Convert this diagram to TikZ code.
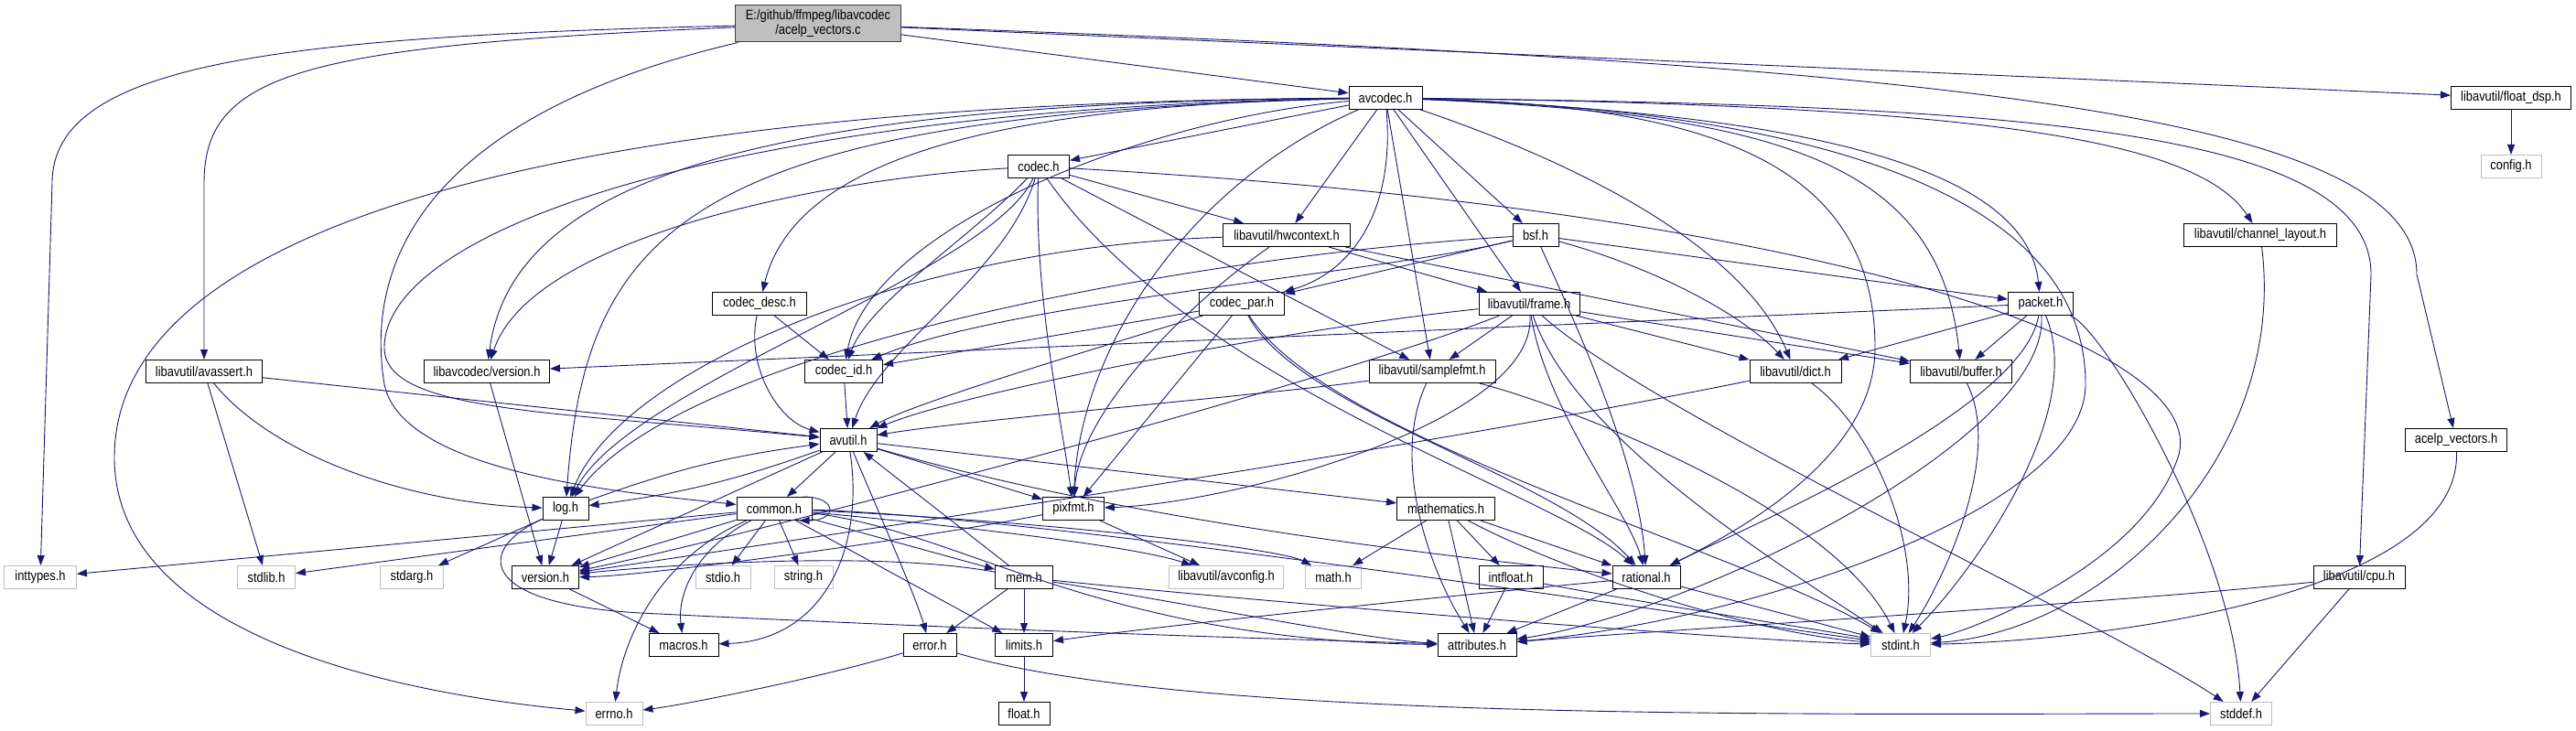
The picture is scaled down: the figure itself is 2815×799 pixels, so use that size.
\documentclass[tikz,border=0pt]{standalone}
\usepackage{fontspec}
\setmainfont{Liberation Sans}
\newfontfamily\dotfont[FakeStretch=0.86]{Liberation Sans}
\usetikzlibrary{arrows.meta}
\definecolor{edgeblue}{HTML}{191970}
\definecolor{sysgray}{HTML}{BFBFBF}
\definecolor{rootgray}{HTML}{BFBFBF}
\definecolor{rootline}{HTML}{404040}

\begin{document}
\begin{tikzpicture}[x=1pt, y=-1pt,
        hdr/.style={draw=black, fill=white, line width=1pt, rectangle, minimum height=25pt, inner sep=0pt, font=\dotfont\fontsize{15pt}{16pt}\selectfont},
        syshdr/.style={hdr, draw=sysgray},
        srcfile/.style={hdr, fill=rootgray, draw=rootline, align=center, minimum height=40pt},
        inc/.style={-{Triangle[length=11pt, width=8pt]}, draw=edgeblue, line width=0.9pt}
    ]
        \useasboundingbox (0,0) rectangle (2815,799);

        % Source file and first level
        \node[srcfile, minimum width=181pt] (root) at (894,26) {E:/github/ffmpeg/libavcodec\\/acelp\_vectors.c};
        \node[hdr, minimum width=80pt] (avcodec) at (1514,107) {avcodec.h};
        \node[hdr, minimum width=131pt] (floatdsp) at (2744,107) {libavutil/float\_dsp.h};
        \node[syshdr, minimum width=66pt] (config) at (2744,182) {config.h};

        % libavcodec headers
        \node[hdr, minimum width=67pt] (codec) at (1135,182) {codec.h};
        \node[hdr, minimum width=139pt] (hwctx) at (1406,257) {libavutil/hwcontext.h};
        \node[hdr, minimum width=50pt] (bsf) at (1678,257) {bsf.h};
        \node[hdr, minimum width=167pt] (chlayout) at (2470,257) {libavutil/channel\_layout.h};
        \node[hdr, minimum width=103pt] (codecdesc) at (830,332) {codec\_desc.h};
        \node[hdr, minimum width=93pt] (codecpar) at (1357,332) {codec\_par.h};
        \node[hdr, minimum width=110pt] (frame) at (1671,332) {libavutil/frame.h};
        \node[hdr, minimum width=71pt] (packet) at (2230,332) {packet.h};
        \node[hdr, minimum width=127pt] (avassert) at (223,406) {libavutil/avassert.h};
        \node[hdr, minimum width=137pt] (lavcver) at (532,406) {libavcodec/version.h};
        \node[hdr, minimum width=85pt] (codecid) at (922,406) {codec\_id.h};
        \node[hdr, minimum width=138pt] (samplefmt) at (1565,406) {libavutil/samplefmt.h};
        \node[hdr, minimum width=100pt] (dict) at (1962,406) {libavutil/dict.h};
        \node[hdr, minimum width=111pt] (buffer) at (2143,406) {libavutil/buffer.h};

        % libavutil core
        \node[hdr, minimum width=62pt] (avutil) at (927,481) {avutil.h};
        \node[hdr, minimum width=111pt] (acelpvh) at (2684,481) {acelp\_vectors.h};
        \node[hdr, minimum width=50pt] (logh) at (618,556) {log.h};
        \node[hdr, minimum width=82pt] (common) at (846,556) {common.h};
        \node[hdr, minimum width=67pt] (pixfmt) at (1173,556) {pixfmt.h};
        \node[hdr, minimum width=107pt] (mathem) at (1580,556) {mathematics.h};

        \node[syshdr, minimum width=79pt] (inttypes) at (44,631) {inttypes.h};
        \node[syshdr, minimum width=63pt] (stdlib) at (291,631) {stdlib.h};
        \node[syshdr, minimum width=69pt] (stdarg) at (450,631) {stdarg.h};
        \node[hdr, minimum width=73pt] (version) at (596,631) {version.h};
        \node[syshdr, minimum width=60pt] (stdio) at (790,631) {stdio.h};
        \node[syshdr, minimum width=64pt] (stringh) at (878,631) {string.h};
        \node[hdr, minimum width=63pt] (mem) at (1119,631) {mem.h};
        \node[syshdr, minimum width=125pt] (avconfig) at (1340,631) {libavutil/avconfig.h};
        \node[syshdr, minimum width=61pt] (mathh) at (1457,631) {math.h};
        \node[hdr, minimum width=70pt] (intfloat) at (1651,631) {intfloat.h};
        \node[hdr, minimum width=74pt] (rational) at (1799,631) {rational.h};
        \node[hdr, minimum width=100pt] (cpu) at (2578,631) {libavutil/cpu.h};

        \node[hdr, minimum width=76pt] (macros) at (747,705) {macros.h};
        \node[hdr, minimum width=58pt] (error) at (1016,705) {error.h};
        \node[hdr, minimum width=63pt] (limits) at (1119,705) {limits.h};
        \node[hdr, minimum width=86pt] (attributes) at (1614,705) {attributes.h};
        \node[syshdr, minimum width=65pt] (stdint) at (2077,705) {stdint.h};

        \node[syshdr, minimum width=62pt] (errno) at (671,780) {errno.h};
        \node[hdr, minimum width=56pt] (floath) at (1119,780) {float.h};
        \node[syshdr, minimum width=67pt] (stddef) at (2449,780) {stddef.h};

        % acelp_vectors.c
        \draw[inc] (root) .. controls (300,40) and (57,70) .. (57,200) -- (inttypes);
        \draw[inc] (root) .. controls (330,50) and (223,80) .. (223,200) -- (avassert);
        \draw[inc] (root) .. controls (450,130) and (400,300) .. (420,420) .. controls (440,520) and (700,540) .. (common);
        \draw[inc] (root) -- (avcodec);
        \draw[inc] (root) -- (floatdsp);
        \draw[inc] (root) .. controls (2100,70) and (2641,120) .. (2641,300) -- (acelpvh);

        % avcodec.h
        \draw[inc] (avcodec) -- (codec);
        \draw[inc] (avcodec) -- (hwctx);
        \draw[inc] (avcodec) -- (bsf);
        \draw[inc] (avcodec) .. controls (1525,240) and (1470,300) .. (codecpar);
        \draw[inc] (avcodec) -- (frame);
        \draw[inc] (avcodec) -- (samplefmt);
        \draw[inc] (avcodec) .. controls (1700,170) and (1900,260) .. (dict);
        \draw[inc] (avcodec) .. controls (1950,125) and (2120,180) .. (buffer);
        \draw[inc] (avcodec) .. controls (2000,125) and (2215,190) .. (packet);
        \draw[inc] (avcodec) .. controls (2150,115) and (2400,150) .. (chlayout);
        \draw[inc] (avcodec) .. controls (2200,115) and (2591,140) .. (2591,300) -- (cpu);
        \draw[inc] (avcodec) .. controls (1850,115) and (2049,170) .. (2049,380) .. controls (2049,500) and (1900,580) .. (rational);
        \draw[inc] (avcodec) .. controls (1950,120) and (2279,200) .. (2279,420) .. controls (2279,560) and (1900,680) .. (attributes);
        \draw[inc] (avcodec) .. controls (1250,130) and (950,250) .. (codecid);
        \draw[inc] (avcodec) .. controls (1100,115) and (870,170) .. (codecdesc);
        \draw[inc] (avcodec) .. controls (850,112) and (560,190) .. (lavcver);
        \draw[inc] (avcodec) .. controls (800,118) and (420,250) .. (420,380) .. controls (420,450) and (600,450) .. (avutil);
        \draw[inc] (avcodec) .. controls (750,125) and (640,250) .. (logh);
        \draw[inc] (avcodec) .. controls (600,112) and (125,250) .. (125,500) .. controls (125,700) and (450,760) .. (errno);
        \draw[inc] (avcodec) .. controls (1300,200) and (1180,380) .. (pixfmt);

        % codec.h
        \draw[inc] (codec) -- (hwctx);
        \draw[inc] (codec) -- (samplefmt);
        \draw[inc] (codec) .. controls (1060,260) and (950,330) .. (codecid);
        \draw[inc] (codec) .. controls (900,195) and (580,260) .. (lavcver);
        \draw[inc] (codec) .. controls (1080,300) and (690,420) .. (logh);
        \draw[inc] (codec) .. controls (1100,300) and (960,380) .. (avutil);
        \draw[inc] (codec) .. controls (1130,320) and (1160,460) .. (pixfmt);
        \draw[inc] (codec) .. controls (1300,420) and (1700,540) .. (rational);
        \draw[inc] (codec) .. controls (2000,230) and (2420,380) .. (2380,500) .. controls (2340,620) and (2150,690) .. (stdint);

        % codec_desc.h, codec_par.h
        \draw[inc] (codecdesc) -- (codecid);
        \draw[inc] (codecdesc) .. controls (815,400) and (850,460) .. (avutil);
        \draw[inc] (codecpar) -- (codecid);
        \draw[inc] (codecpar) .. controls (1200,380) and (1000,440) .. (avutil);
        \draw[inc] (codecpar) -- (pixfmt);
        \draw[inc] (codecpar) .. controls (1420,450) and (1700,520) .. (rational);
        \draw[inc] (codecpar) .. controls (1450,480) and (1900,600) .. (stdint);

        % bsf.h
        \draw[inc] (bsf) -- (codecpar);
        \draw[inc] (bsf) -- (packet);
        \draw[inc] (bsf) .. controls (1800,290) and (1900,340) .. (dict);
        \draw[inc] (bsf) .. controls (1720,350) and (1790,500) .. (rational);
        \draw[inc] (bsf) .. controls (1500,300) and (1100,330) .. (codecid);
        \draw[inc] (bsf) .. controls (1300,280) and (750,380) .. (logh);

        % hwcontext.h
        \draw[inc] (hwctx) -- (frame);
        \draw[inc] (hwctx) -- (buffer);
        \draw[inc] (hwctx) .. controls (1000,270) and (680,400) .. (logh);
        \draw[inc] (hwctx) .. controls (1300,330) and (1180,450) .. (pixfmt);

        % frame.h
        \draw[inc] (frame) -- (samplefmt);
        \draw[inc] (frame) -- (dict);
        \draw[inc] (frame) -- (buffer);
        \draw[inc] (frame) .. controls (1400,360) and (1050,430) .. (avutil);
        \draw[inc] (frame) .. controls (1680,460) and (1350,550) .. (pixfmt);
        \draw[inc] (frame) .. controls (1450,420) and (800,590) .. (version);
        \draw[inc] (frame) .. controls (1690,450) and (1780,560) .. (rational);
        \draw[inc] (frame) .. controls (1720,480) and (1950,620) .. (stdint);
        \draw[inc] (frame) .. controls (1800,450) and (2300,680) .. (stddef);

        % packet.h
        \draw[inc] (packet) -- (dict);
        \draw[inc] (packet) -- (buffer);
        \draw[inc] (packet) -- (lavcver);
        \draw[inc] (packet) .. controls (2210,450) and (1900,580) .. (rational);
        \draw[inc] (packet) .. controls (2240,480) and (1850,670) .. (attributes);
        \draw[inc] (packet) .. controls (2280,450) and (2160,620) .. (stdint);
        \draw[inc] (packet) .. controls (2300,360) and (2440,600) .. (stddef);

        % samplefmt.h, dict.h, buffer.h and the right side
        \draw[inc] (samplefmt) .. controls (1400,430) and (1050,460) .. (avutil);
        \draw[inc] (samplefmt) .. controls (1520,500) and (1560,620) .. (attributes);
        \draw[inc] (samplefmt) .. controls (1700,440) and (2000,550) .. (stdint);
        \draw[inc] (dict) .. controls (1500,500) and (800,600) .. (version);
        \draw[inc] (dict) .. controls (2050,470) and (2100,600) .. (stdint);
        \draw[inc] (buffer) .. controls (2190,500) and (2120,640) .. (stdint);
        \draw[inc] (chlayout) .. controls (2500,500) and (2300,690) .. (stdint);
        \draw[inc] (cpu) .. controls (2300,660) and (1800,690) .. (attributes);
        \draw[inc] (cpu) -- (stddef);
        \draw[inc] (acelpvh) .. controls (2690,650) and (2300,700) .. (stdint);
        \draw[inc] (floatdsp) -- (config);

        % avassert.h, version headers
        \draw[inc] (avassert) -- (stdlib);
        \draw[inc] (avassert) -- (avutil);
        \draw[inc] (avassert) .. controls (300,500) and (450,550) .. (logh);
        \draw[inc] (lavcver) -- (version);
        \draw[inc] (codecid) -- (avutil);
        \draw[inc] (version) -- (macros);

        % avutil.h
        \draw[inc] (avutil) -- (common);
        \draw[inc] (avutil) to[bend left=6] (logh);
        \draw[inc] (avutil) -- (version);
        \draw[inc] (avutil) -- (pixfmt);
        \draw[inc] (avutil) -- (mathem);
        \draw[inc] (avutil) .. controls (960,560) and (1000,650) .. (error);
        \draw[inc] (avutil) .. controls (945,600) and (900,700) .. (macros);
        \draw[inc] (avutil) .. controls (1200,560) and (1500,600) .. (rational);

        % log.h
        \draw[inc] (logh) to[bend left=6] (avutil);
        \draw[inc] (logh) -- (stdarg);
        \draw[inc] (logh) -- (version);
        \draw[inc] (logh) .. controls (520,600) and (520,660) .. (700,670) .. controls (1100,690) and (1450,700) .. (attributes);

        % common.h
        \draw[inc] (common) -- (inttypes);
        \draw[inc] (common) -- (stdlib);
        \draw[inc] (common) -- (version);
        \draw[inc] (common) -- (stdio);
        \draw[inc] (common) -- (stringh);
        \draw[inc] (common) -- (mem);
        \draw[inc] (common) -- (limits);
        \draw[inc] (common) .. controls (1100,580) and (1250,600) .. (avconfig);
        \draw[inc] (common) .. controls (1150,570) and (1400,600) .. (mathh);
        \draw[inc] (common) .. controls (760,600) and (740,650) .. (macros);
        \draw[inc] (common) .. controls (720,610) and (680,700) .. (errno);
        \draw[inc] (common) .. controls (1050,580) and (1200,700) .. (attributes);
        \draw[inc] (common) .. controls (1150,565) and (1900,680) .. (stdint);
        \draw[inc] ([xshift=-10pt]common.north east) .. controls ([xshift=28pt]common.north east) and ([xshift=28pt]common.south east) .. ([xshift=-14pt]common.south east);

        % pixfmt.h, mathematics.h
        \draw[inc] (pixfmt) -- (avconfig);
        \draw[inc] (pixfmt) .. controls (1000,590) and (700,630) .. (version);
        \draw[inc] (mathem) -- (mathh);
        \draw[inc] (mathem) -- (intfloat);
        \draw[inc] (mathem) -- (rational);
        \draw[inc] (mathem) -- (attributes);
        \draw[inc] (mathem) .. controls (1700,620) and (1900,690) .. (stdint);

        % mem.h
        \draw[inc] (mem) -- (limits);
        \draw[inc] (mem) -- (error);
        \draw[inc] (mem) -- (avutil);
        \draw[inc] (mem) .. controls (1300,660) and (1500,700) .. (attributes);
        \draw[inc] (mem) .. controls (1400,660) and (1900,700) .. (stdint);
        \draw[inc] (mem) .. controls (950,600) and (700,620) .. (version);

        % intfloat.h, rational.h, error.h, limits.h
        \draw[inc] (intfloat) -- (attributes);
        \draw[inc] (intfloat) .. controls (1800,660) and (2000,690) .. (stdint);
        \draw[inc] (rational) -- (attributes);
        \draw[inc] (rational) -- (stdint);
        \draw[inc] (rational) .. controls (1600,650) and (1300,680) .. (limits);
        \draw[inc] (error) .. controls (900,740) and (750,770) .. (errno);
        \draw[inc] (error) .. controls (1300,790) and (2000,780) .. (stddef);
        \draw[inc] (limits) -- (floath);

    \end{tikzpicture}
\end{document}
